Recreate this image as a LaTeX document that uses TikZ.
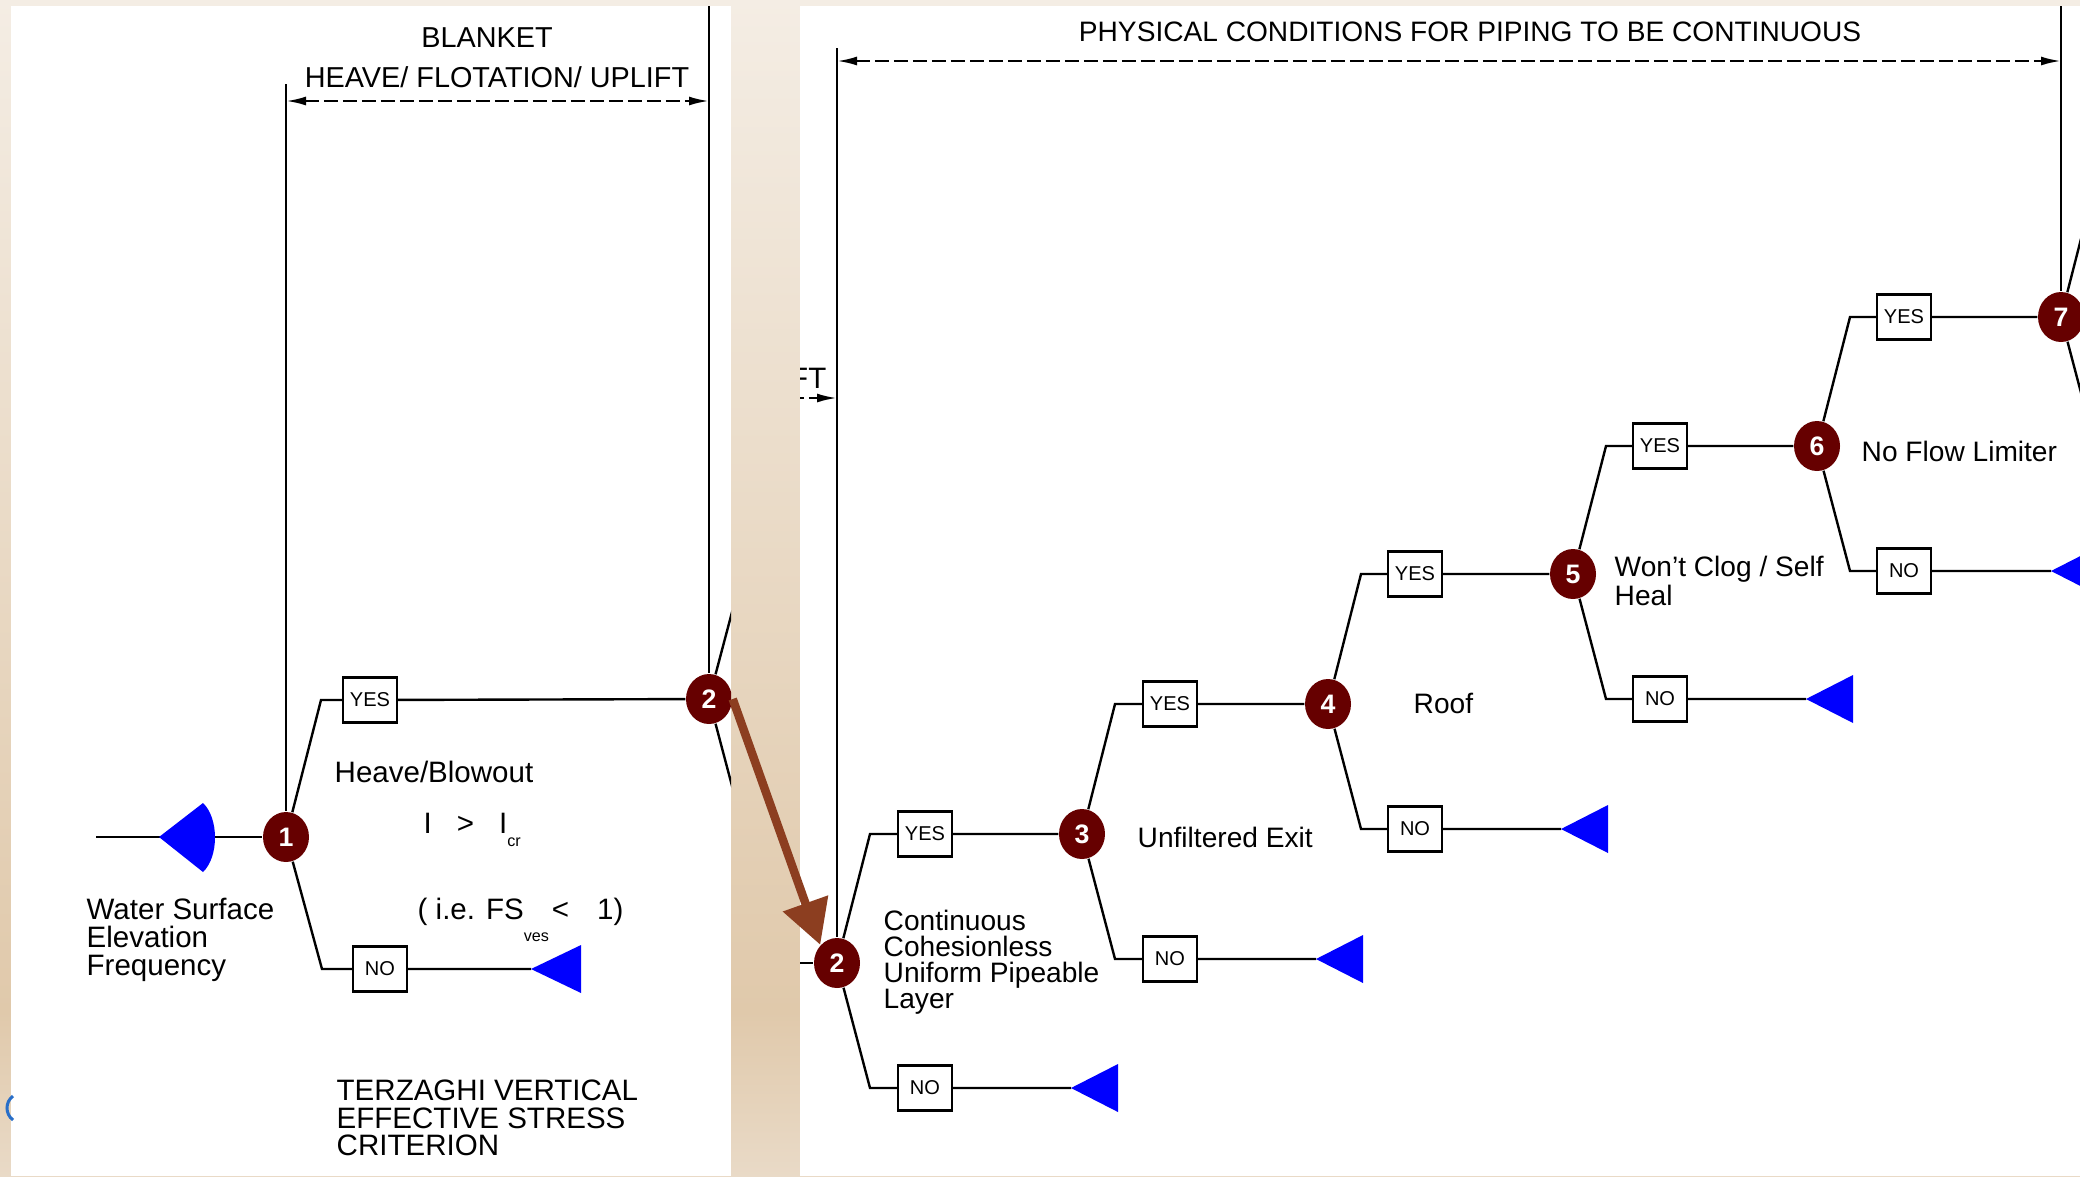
\documentclass[tikz,border=0pt]{standalone}
\usepackage{fontspec}
\setmainfont{Liberation Sans}
\usetikzlibrary{arrows.meta,shapes.geometric}
\definecolor{nodered}{RGB}{102,0,0}
\definecolor{triblue}{RGB}{0,0,255}
\definecolor{arrowbrown}{RGB}{140,62,32}
\definecolor{bgtop}{RGB}{244,237,228}
\definecolor{bgmid}{RGB}{224,201,171}
\definecolor{bgbot}{RGB}{233,218,199}
\pgfdeclareverticalshading{slidebg}{100bp}{color(0bp)=(bgbot); color(25bp)=(bgbot); color(32bp)=(bgmid); color(75bp)=(bgtop); color(100bp)=(bgtop)}
\newcommand\subfnt{\fontsize{4.6}{5}\selectfont}

\begin{document}
\begin{tikzpicture}[x=0.1mm, y=-0.1mm,
  num/.style={ellipse, fill=nodered, text=white, inner sep=0pt, minimum width=4.6mm, minimum height=5mm, font=\fontsize{7.6}{8}\selectfont\bfseries},
  ans/.style={draw, fill=white, line width=0.24mm, inner sep=0pt, minimum width=5.4mm, minimum height=4.5mm, font=\fontsize{5.7}{6}\selectfont},
  branch/.style={line width=0.24mm},
  tri/.style={fill=triblue},
  dim/.style={line width=0.24mm, dash pattern=on 1.4mm off 0.5mm, {Latex[length=2mm,width=0.9mm]}-{Latex[length=2mm,width=0.9mm]}},
  lblL/.style={anchor=west, align=left, inner sep=0pt, font=\fontsize{8.4}{7.9}\selectfont},
  lblR/.style={anchor=west, align=left, inner sep=0pt, font=\fontsize{8}{7.4}\selectfont},
  ttl/.style={inner sep=0pt, font=\fontsize{8.2}{9}\selectfont},
  bigarrow/.style={draw=arrowbrown, line width=0.85mm, -{Triangle[length=4.4mm,width=4.6mm]}}]
\useasboundingbox (0,0) rectangle (2080,1176);
\shade[shading=slidebg] (0,0) rectangle (2080,1176);
\fill[white] (11,6) rectangle (731,1176);
\fill[white] (800,6) rectangle (2080,1176);

% blanket heave
\begin{scope}
\clip (11,6) rectangle (731,1176);
\node[ttl] (blk) at (487,38) {BLANKET};
\node[ttl] (hfu) at (497,77) {HEAVE/ FLOTATION/ UPLIFT};
\coordinate (d1a) at (286,101);
\coordinate (d1b) at (709,101);
\draw[dim] (d1a) -- (d1b);

\coordinate (src) at (96,837);
\coordinate (fan) at (159,837);
\coordinate (v1) at (286,84);
\coordinate (v2) at (709,0);
\node[num] (n1) at (286,837) {1};
\node[num] (n2a) at (709,699) {2};
\coordinate (e1y) at (321,700);
\node[ans] (y1) at (370,700) {YES};
\coordinate (e1n) at (322,969);
\node[ans] (no1) at (380,969) {NO};
\coordinate (t1) at (531,969);
\coordinate (e2ay) at (745,563);
\coordinate (e2an) at (745,835);

\draw[branch] (src) -- (n1);
\draw[branch] (v1) -- (n1);
\draw[branch] (v2) -- (n2a);
\draw[branch] (n1) -- (e1y) -- (y1) -- (n2a);
\draw[branch] (n1) -- (e1n) -- (no1) -- (t1);
\draw[branch] (n2a) -- (e2ay);
\draw[branch] (n2a) -- (e2an);
\fill[tri] (fan) -- (203,803) .. controls (219,818) and (219,857) .. (203,872) -- cycle;
\fill[tri] (t1) -- ++(50,-24) -- ++(0,48) -- cycle;

\node[lblL] (c1) at (86,940) {Water Surface\\Elevation\\Frequency};
\node[lblL] (hb) at (334,772) {Heave/Blowout};
\node[lblL] (icr) at (423,830) {I\hspace{2.5mm}>\hspace{2.5mm}I\raisebox{-1.3mm}{\subfnt cr}};
\node[lblL] (fs) at (417,920) {( i.e. FS\raisebox{-2.2mm}{\subfnt ves}\hspace{0.3mm}<\hspace{2.8mm}1)};
\node[lblL] (tz) at (336,1118) {TERZAGHI VERTICAL\\EFFECTIVE STRESS\\CRITERION};
\end{scope}

% piping continuous
\begin{scope}
\clip (800,6) rectangle (2080,1176);
\node[ttl, font=\fontsize{8}{9}\selectfont] (pcp) at (1470,32) {PHYSICAL CONDITIONS FOR PIPING TO BE CONTINUOUS};
\coordinate (d2a) at (837,61);
\coordinate (d2b) at (2061,61);
\draw[dim] (d2a) -- (d2b);
\node[lblL, anchor=east] (ft) at (827,378) {FT};
\coordinate (d3a) at (600,398);
\coordinate (d3b) at (837,398);
\draw[dim] (d3a) -- (d3b);

\coordinate (src2) at (790,963);
\coordinate (v3) at (837,48);
\coordinate (v4) at (2061,0);
\node[num] (n2) at (837,963) {2};
\node[num] (n3) at (1082,834) {3};
\node[num] (n4) at (1328,704) {4};
\node[num] (n5) at (1573,574) {5};
\node[num] (n6) at (1817,446) {6};
\node[num] (n7) at (2061,317) {7};

\coordinate (e2y) at (870,834);
\node[ans] (y2) at (925,834) {YES};
\coordinate (e2n) at (870,1088);
\node[ans] (no2) at (925,1088) {NO};
\coordinate (t2) at (1071,1088);
\coordinate (e3y) at (1115,704);
\node[ans] (y3) at (1170,704) {YES};
\coordinate (e3n) at (1115,959);
\node[ans] (no3) at (1170,959) {NO};
\coordinate (t3) at (1316,959);
\coordinate (e4y) at (1361,574);
\node[ans] (y4) at (1415,574) {YES};
\coordinate (e4n) at (1361,829);
\node[ans] (no4) at (1415,829) {NO};
\coordinate (t4) at (1561,829);
\coordinate (e5y) at (1606,446);
\node[ans] (y5) at (1660,446) {YES};
\coordinate (e5n) at (1606,699);
\node[ans] (no5) at (1660,699) {NO};
\coordinate (t5) at (1806,699);
\coordinate (e6y) at (1850,317);
\node[ans] (y6) at (1904,317) {YES};
\coordinate (e6n) at (1850,571);
\node[ans] (no6) at (1904,571) {NO};
\coordinate (t6) at (2051,571);
\coordinate (e7y) at (2094,188);
\coordinate (e7n) at (2094,442);

\draw[branch] (src2) -- (n2);
\draw[branch] (v3) -- (n2);
\draw[branch] (v4) -- (n7);
\draw[branch] (n2) -- (e2y) -- (y2) -- (n3);
\draw[branch] (n2) -- (e2n) -- (no2) -- (t2);
\draw[branch] (n3) -- (e3y) -- (y3) -- (n4);
\draw[branch] (n3) -- (e3n) -- (no3) -- (t3);
\draw[branch] (n4) -- (e4y) -- (y4) -- (n5);
\draw[branch] (n4) -- (e4n) -- (no4) -- (t4);
\draw[branch] (n5) -- (e5y) -- (y5) -- (n6);
\draw[branch] (n5) -- (e5n) -- (no5) -- (t5);
\draw[branch] (n6) -- (e6y) -- (y6) -- (n7);
\draw[branch] (n6) -- (e6n) -- (no6) -- (t6);
\draw[branch] (n7) -- (e7y);
\draw[branch] (n7) -- (e7n);
\fill[tri] (t2) -- ++(47,-24) -- ++(0,48) -- cycle;
\fill[tri] (t3) -- ++(47,-24) -- ++(0,48) -- cycle;
\fill[tri] (t4) -- ++(47,-24) -- ++(0,48) -- cycle;
\fill[tri] (t5) -- ++(47,-24) -- ++(0,48) -- cycle;
\fill[tri] (t6) -- ++(47,-24) -- ++(0,48) -- cycle;

\node[lblR] (c2) at (883,962) {Continuous\\Cohesionless\\Uniform Pipeable\\Layer};
\node[lblR] (c3) at (1137,837) {Unfiltered Exit};
\node[lblR] (c4) at (1413,703) {Roof};
\node[lblR] (c5) at (1614,581) {Won't Clog / Self\\Heal};
\node[lblR] (c6) at (1861,451) {No Flow Limiter};
\end{scope}

\draw[bigarrow] (n2a.east) -- (n2.north west);
\draw[line width=0.3mm, draw={rgb,255:red,40;green,110;blue,200}] (13,1096) .. controls (5,1102) and (5,1114) .. (13,1120);
\end{tikzpicture}
\end{document}
